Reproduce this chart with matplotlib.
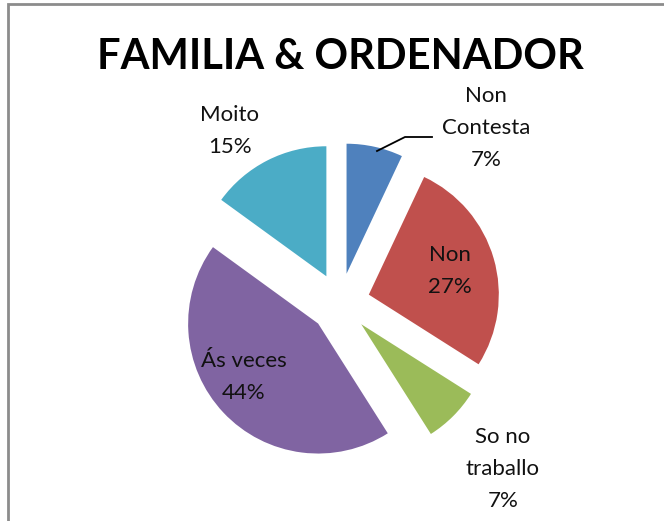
import matplotlib.pyplot as plt
from matplotlib.patches import Rectangle

# slice data, clockwise from 12 o'clock
labels = ['Non\nContesta', 'Non', 'So no\ntraballo', 'Ás veces', 'Moito']
values = [7, 27, 7, 44, 15]
colors = ['#4F81BD', '#C0504D', '#9BBB59', '#8064A2', '#4BACC6']

# label centres, offset from the pie centre in pixels
label_offsets = [(146, 175), (110, 32), (163, -166), (-96, -74), (-110, 172)]

W, H = 664, 521
CX, CY = 340, H - 303
R = 130
EXPLODE = 30

plt.rcParams['font.family'] = ['Lato', 'DejaVu Sans']

fig = plt.figure(figsize=(W / 100, H / 100), dpi=100)
ax = fig.add_axes([0, 0, 1, 1])
ax.set_xlim(0, W)
ax.set_ylim(0, H)
ax.axis('off')

# grey chart-area frame, cut off at right and bottom like the original
fig.patches.append(Rectangle((8 / W, -0.1), 1.2, (H - 4) / H + 0.1,
                             transform=fig.transFigure, fill=False,
                             edgecolor='#8C8C8C', linewidth=2))

wedges, _ = ax.pie(values, colors=colors, startangle=90, counterclock=False,
                   center=(CX, CY), radius=R, explode=[EXPLODE] * len(values),
                   wedgeprops=dict(linewidth=0))
ax.set_xlim(0, W)
ax.set_ylim(0, H)

for lab, val, (dx, dy) in zip(labels, values, label_offsets):
    ax.text(CX + dx, CY + dy, f'{lab}\n{val}%', ha='center', va='center',
            fontsize=16, color='#111111', linespacing=1.72)

# leader line for "Non Contesta"
ax.plot([377, 405, 432], [H - 151, H - 137, H - 137], color='black', lw=1.3)

ax.text(CX, H - 57, 'FAMILIA & ORDENADOR', ha='center', va='center',
        fontsize=30, fontweight='bold', color='black')

fig.savefig('out.png', dpi=100)
